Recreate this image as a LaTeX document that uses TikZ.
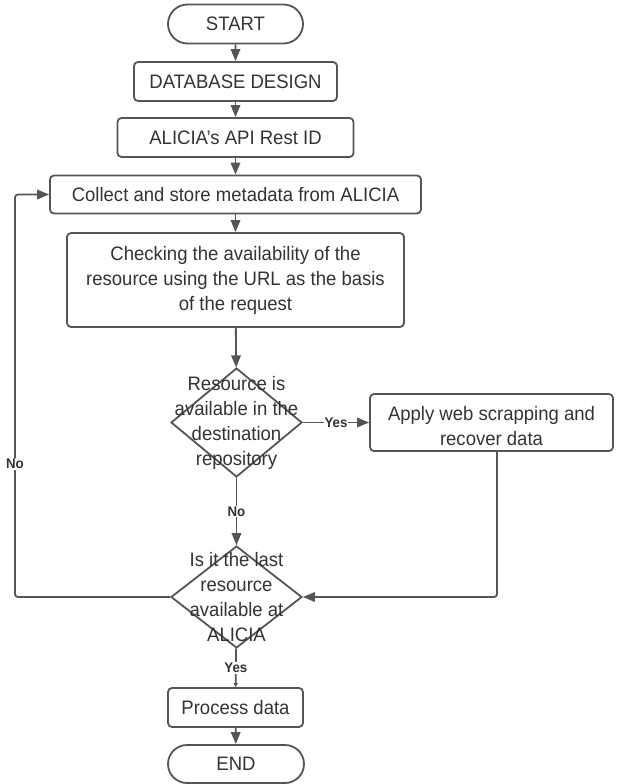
\documentclass[tikz,border=0pt]{standalone}
\usepackage{fontspec}
\setmainfont{Liberation Sans}[FakeStretch = 0.95]
\usetikzlibrary{shapes.geometric, shapes.misc, arrows.meta}
\definecolor{linegray}{HTML}{555555}
\definecolor{textgray}{HTML}{333333}

\begin{document}
\begin{tikzpicture}[x = 1pt, y = -1pt, line width = 1.8pt,
                    box/.style = {rectangle, rounded corners = 4pt, draw = linegray, text = textgray, align = center,
                                  inner sep = 0pt, minimum height = 39pt, font = \fontsize{19.5}{25}\selectfont},
                    term/.style = {rounded rectangle, draw = linegray, text = textgray, inner sep = 0pt,
                                   minimum height = 39pt, font = \fontsize{19.5}{25}\selectfont},
                    choice/.style = {diamond, draw = linegray, inner sep = 0pt, minimum width = 131pt},
                    dtext/.style = {text = textgray, align = center, inner sep = 0pt, font = \fontsize{19.5}{25}\selectfont},
                    tag/.style = {fill = white, text = textgray, inner sep = 1pt, font = \fontsize{14}{16}\selectfont\bfseries},
                    arr/.style = {draw = linegray, -{Triangle[length = 12pt, width = 9.5pt]}},
                    arrs/.style = {draw = linegray, -{Triangle[length = 4pt, width = 4pt]}}]
  \useasboundingbox (0,0) rectangle (618,784);
  \node [term, minimum width = 135pt] (T0) at (235.5,24) {START};
  \node [box, minimum width = 203pt] (B1) at (235.5,81.5) {DATABASE DESIGN};
  \node [box, minimum width = 236pt] (B2) at (235.5,137.5) {ALICIA's API Rest ID};
  \node [box, minimum width = 371pt, minimum height = 38pt] (B3) at (235.5,194.5) {Collect and store metadata from ALICIA};
  \node [box, minimum width = 337pt, minimum height = 94pt] (B4) at (235.5,280)
        {Checking the availability of the\\resource using the URL as the basis\\of the request};
  \node [choice, minimum height = 109pt,
         label = {[dtext]center:{Resource is\\available in the\\destination\\repository}}] (D1) at (236.5,422.5) {};
  \node [box, minimum width = 243pt, minimum height = 57pt, text height = 50pt, text depth = 4pt] (A1) at (491.5,422.5)
        {Apply web scrapping and\\recover data};
  \node [choice, minimum height = 102pt,
         label = {[dtext]center:{Is it the last\\resource\\available at\\ALICIA}}] (D2) at (236.5,597) {};
  \node [box, minimum width = 135pt] (P1) at (235.5,707.5) {Process data};
  \node [term, minimum width = 136pt, minimum height = 38pt] (T1) at (236,764) {END};

  \coordinate (L1) at (15,597);
  \coordinate (L2) at (15,194.5);

  \draw [arr] (T0) -- (B1);
  \draw [arr] (B1) -- (B2);
  \draw [arr] (B2) -- (B3);
  \draw [arr] (B3) -- (B4);
  \draw [arr] (B4) -- (D1);
  \draw [arr] (D1) -- node [tag] {Yes} (A1);
  \draw [arr] (D1) -- node [tag] {No} (D2);
  \draw [arr, rounded corners = 3pt] ([xshift = 5.5pt]A1.south) |- (D2);
  \draw [arr, rounded corners = 3pt] (D2) -- (L1) -- node [tag, pos = 0.33] {No} (L2) -- (B3);
  \draw [arrs] (D2) -- node [tag] {Yes} (P1);
  \draw [arr] (P1) -- (T1);
\end{tikzpicture}
\end{document}
